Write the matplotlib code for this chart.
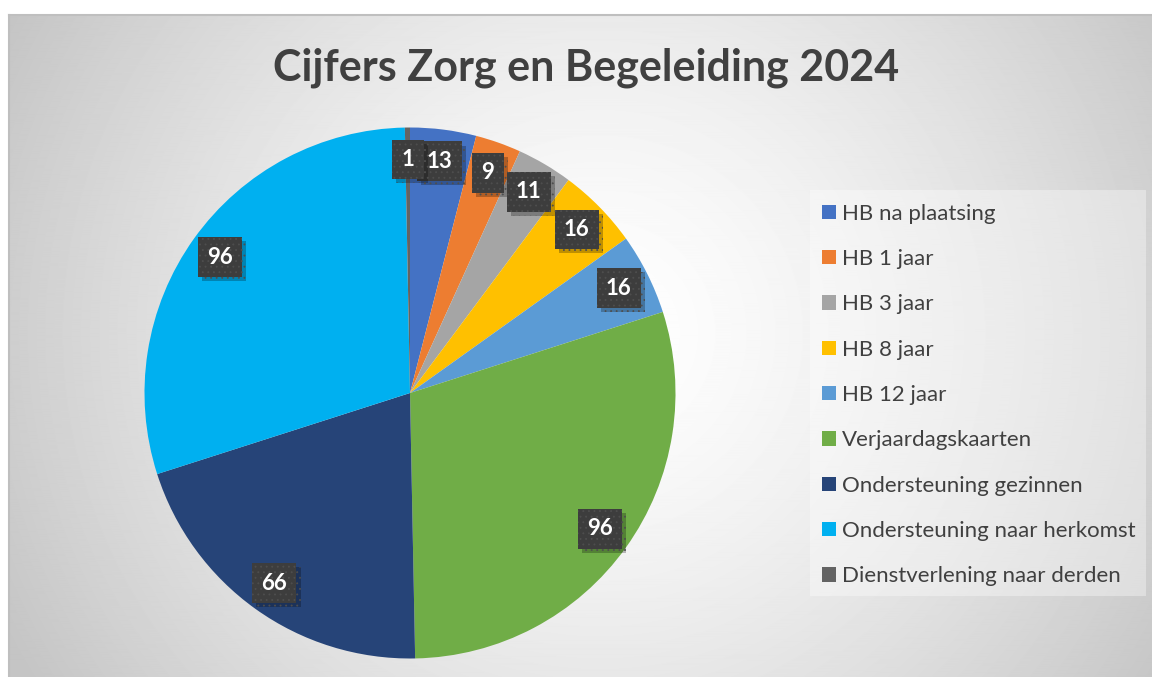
import matplotlib
matplotlib.use('Agg')

import numpy as np
import matplotlib.pyplot as plt
import matplotlib.patheffects as pe
from matplotlib.patches import Rectangle, Patch

# Data
labels = ['HB na plaatsing', 'HB 1 jaar', 'HB 3 jaar', 'HB 8 jaar', 'HB 12 jaar',
          'Verjaardagskaarten', 'Ondersteuning gezinnen', 'Ondersteuning naar herkomst',
          'Dienstverlening naar derden']
values = [13, 9, 11, 16, 16, 96, 66, 96, 1]
colors = ['#4472C4', '#ED7D31', '#A5A5A5', '#FFC000', '#5B9BD5',
          '#70AD47', '#264478', '#00B0F0', '#636363']
title = 'Cijfers Zorg en Begeleiding 2024'

W, H = 1152, 677
plt.rcParams['font.family'] = ['Lato', 'DejaVu Sans']
plt.rcParams['hatch.linewidth'] = 0.6

fig = plt.figure(figsize=(W / 100, H / 100), dpi=100)

# radial grey-to-white background of the chart area
bg = fig.add_axes([9 / W, 0, 1, (H - 15) / H], zorder=0)
yy, xx = np.mgrid[15:H + 15, 9:W + 9]
dist = np.hypot(xx - 600, yy - 340) / 667.0
shade = 255 - 58 * np.clip(dist, 0, 1) ** 1.4
bg.imshow(shade, cmap='gray', vmin=0, vmax=255, aspect='auto',
          extent=[0, 1, 0, 1], interpolation='bilinear')
bg.set_xlim(0, 1)
bg.set_ylim(0, 1)
bg.set_xticks([])
bg.set_yticks([])
for side in ['right', 'bottom']:
    bg.spines[side].set_visible(False)
for side in ['top', 'left']:
    bg.spines[side].set_color('#bfbfbf')
    bg.spines[side].set_linewidth(1.5)

# pie
cx, cy, r = 410, 393, 265.5
ax = fig.add_axes([(cx - r) / W, (H - cy - r) / H, 2 * r / W, 2 * r / H], zorder=1)
ax.set_facecolor('none')
total = sum(values)
wedges, _, autotexts = ax.pie(values, colors=colors, startangle=90, counterclock=False,
                              radius=1, pctdistance=0.88,
                              autopct=lambda p: '%d' % round(p * total / 100.0),
                              wedgeprops=dict(linewidth=0))
ax.set_xlim(-1, 1)
ax.set_ylim(-1, 1)
ax.set_aspect('equal')

for t in autotexts:
    t.set_color('white')
    t.set_fontsize(16)
    t.set_fontweight('bold')
    t.set_zorder(3)
    t.set_bbox(dict(boxstyle='square,pad=0.42', facecolor='#3d3d3d', edgecolor='#4e4e4e',
                    linewidth=0, hatch='...'))
    # drop shadow under the label box
    t.get_bbox_patch().set_path_effects([
        pe.SimplePatchShadow(offset=(3, -3), shadow_rgbFace='black', alpha=0.25),
        pe.Normal()])

fig.text(586 / W, 1 - 81 / H, title, ha='center', va='baseline', fontsize=31,
         fontweight='bold', color='#404040')

# legend box
fig.patches.append(Rectangle((810 / W, 1 - 596 / H), 336 / W, 406 / H,
                             transform=fig.transFigure, facecolor='white', alpha=0.35,
                             edgecolor='none', zorder=1))
handles = [Patch(facecolor=c, edgecolor='none') for c in colors]
leg = fig.legend(handles, labels, loc='upper left', bbox_to_anchor=(804 / W, 1 - 186 / H),
                 frameon=False, fontsize=16, handlelength=0.62, handleheight=0.62,
                 handletextpad=0.3, labelspacing=1.14, borderpad=0.3)
for txt in leg.get_texts():
    txt.set_color('#404040')

fig.savefig('out.png', dpi=100)
